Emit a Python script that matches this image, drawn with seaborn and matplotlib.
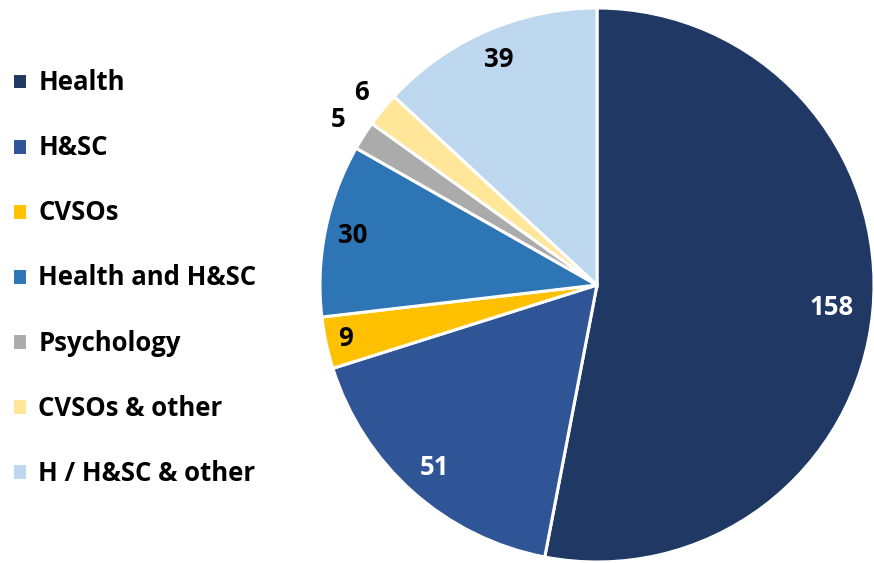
import matplotlib
matplotlib.use("Agg")
import matplotlib.pyplot as plt
import seaborn as sns
import numpy as np

sns.set_theme(style="white")
plt.rcParams['font.family'] = ['Open Sans', 'DejaVu Sans']

categories = ["Health", "H&SC", "CVSOs", "Health and H&SC", "Psychology", "CVSOs & other", "H / H&SC & other"]
values = [158, 51, 9, 30, 5, 6, 39]
colors = ["#203864", "#2F5597", "#FFC000", "#2E75B6", "#ABABAB", "#FFE699", "#BDD7EE"]
label_colors = ["white", "white", "black", "black", "black", "black", "black"]
label_dist = [0.85, 0.88, 0.93, 0.90, 1.11, 1.10, 0.89]

fig = plt.figure(figsize=(8.74, 5.63), dpi=100)
ax = fig.add_axes([0, 0, 1, 1])

cx, cy, R = 597, 563 - 285, 277
wedges, _ = ax.pie(values, colors=colors, startangle=90, counterclock=False,
                   center=(cx, cy), radius=R, frame=True,
                   wedgeprops=dict(edgecolor="white", linewidth=2.2))
ax.set_xlim(0, 874)
ax.set_ylim(0, 563)
ax.set_aspect('equal')
ax.axis('off')

total = sum(values)
cum = np.cumsum([0] + values)
for i, v in enumerate(values):
    mid = (cum[i] + cum[i + 1]) / 2 / total
    ang = np.deg2rad(90 - mid * 360)
    x = cx + label_dist[i] * R * np.cos(ang)
    y = cy + label_dist[i] * R * np.sin(ang)
    ax.text(x, y, str(v), ha="center", va="center", fontsize=18.5, fontweight="bold",
            color=label_colors[i])

leg = ax.legend(wedges, categories, loc="upper left", bbox_to_anchor=(0.002, 0.895),
                frameon=False, prop=dict(size=18.5, weight="bold"),
                handlelength=0.6, handleheight=0.6, handletextpad=0.42,
                labelspacing=1.48, borderaxespad=0)
for t in leg.get_texts():
    t.set_color("black")

fig.savefig("out.png", dpi=100)
